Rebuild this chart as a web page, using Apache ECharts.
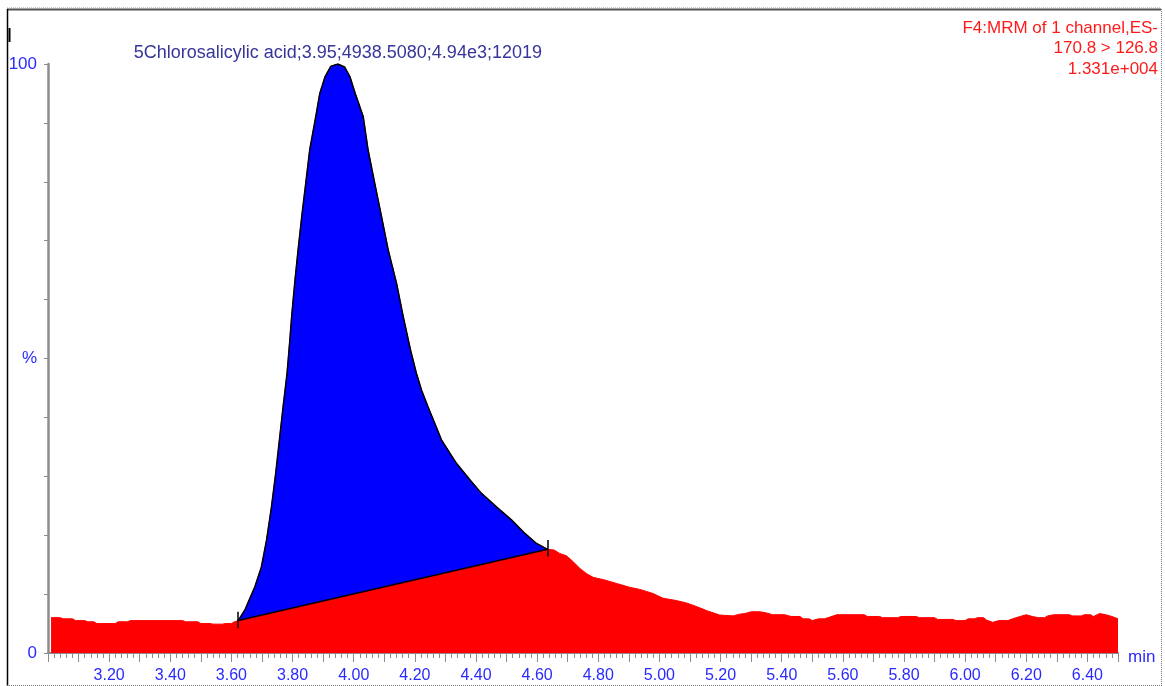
<!DOCTYPE html>
<html>
<head>
<meta charset="utf-8">
<title>5Chlorosalicylic acid</title>
<script src="https://cdn.jsdelivr.net/npm/echarts@6/dist/echarts.min.js"></script>
<style>
  html, body { margin: 0; padding: 0; background: #fff; }
  #chart { width: 1165px; height: 686px; }
</style>
</head>
<body>
<div id="chart"></div>
<script>
// retention time (min) and intensity (%)
var rt = [
  3.01, 3.04, 3.05, 3.08, 3.09, 3.12, 3.13, 3.15, 3.16, 3.22, 3.23, 3.26, 3.27, 3.35, 3.44,
  3.45, 3.49, 3.50, 3.53, 3.54, 3.57, 3.58, 3.60, 3.61,
  3.622, 3.644, 3.658, 3.677, 3.698, 3.715, 3.731, 3.745, 3.757, 3.769, 3.782, 3.791, 3.797,
  3.807, 3.818, 3.830, 3.843, 3.856, 3.876, 3.889, 3.906, 3.925, 3.948, 3.970, 3.988, 4.005,
  4.031, 4.047, 4.069, 4.091, 4.113, 4.140, 4.162, 4.186, 4.205, 4.222, 4.243, 4.265, 4.287,
  4.336, 4.380, 4.418, 4.467, 4.516, 4.560, 4.598, 4.634,
  4.655, 4.674, 4.696, 4.718, 4.739, 4.761, 4.783, 4.821, 4.860, 4.903, 4.936, 4.979, 5.012,
  5.056, 5.088, 5.121, 5.154, 5.197, 5.241, 5.262, 5.28, 5.30, 5.33, 5.35, 5.37, 5.41, 5.43,
  5.46, 5.47, 5.49, 5.50, 5.52, 5.54, 5.555, 5.58, 5.67, 5.68, 5.72, 5.73, 5.78, 5.79, 5.84,
  5.85, 5.90, 5.91, 5.96, 5.97, 6.00, 6.01, 6.03, 6.04, 6.06, 6.07, 6.09, 6.11, 6.14, 6.155,
  6.18, 6.20, 6.22, 6.24, 6.26, 6.27, 6.29, 6.34, 6.35, 6.38, 6.39, 6.41, 6.42, 6.44, 6.46,
  6.48, 6.50
];
var intensity = [
  6.0, 6.0, 5.8, 5.8, 5.5, 5.5, 5.3, 5.3, 5.0, 5.0, 5.3, 5.3, 5.5, 5.5, 5.5,
  5.3, 5.3, 5.0, 5.0, 4.9, 4.9, 5.0, 5.0, 5.3,
  5.5, 7.3, 9.0, 11.3, 14.6, 19.2, 24.8, 30.6, 36.2, 41.8, 47.5, 53.1, 57.1,
  62.8, 68.4, 74.1, 79.7, 85.4, 91.1, 95.0, 97.8, 99.6, 100, 99.5, 97.8, 95.0,
  91.1, 85.4, 79.7, 74.1, 68.4, 62.8, 57.1, 51.4, 47.5, 44.6, 41.8, 39.0, 36.2,
  32.2, 29.4, 27.1, 24.8, 22.6, 20.3, 18.6, 17.6,
  17.5, 16.9, 16.5, 15.5, 14.4, 13.5, 12.85, 12.4, 11.8, 11.15, 10.8, 10.1, 9.3,
  8.9, 8.5, 7.9, 7.2, 6.45, 6.3, 6.6, 6.7, 7.0, 7.0, 6.8, 6.5, 6.5, 6.2,
  6.2, 5.8, 5.8, 5.5, 5.8, 5.8, 6.05, 6.5, 6.5, 6.2, 6.2, 6.0, 6.0, 6.2, 6.2,
  6.0, 6.0, 5.7, 5.7, 5.5, 5.5, 5.8, 5.8, 6.0, 6.0, 5.6, 5.2, 5.5, 5.5, 5.8,
  6.2, 6.5, 6.2, 6.0, 6.0, 6.3, 6.5, 6.5, 6.3, 6.3, 6.5, 6.5, 6.2, 6.7, 6.5,
  6.2, 5.8
];

// integration: straight baseline from peak start to peak end
var baseTimes = [3.622, 4.634];
var baseValues = [5.5, 17.6];
// small vertical marks at both ends of the baseline [time, low, high]
var startMark = [3.622, 4.2, 7.0];
var endMark = [4.634, 16.4, 19.2];

var peakLabel = '5Chlorosalicylic acid;3.95;4938.5080;4.94e3;12019';
var apex = [3.948, 100];
var headerLines = ['F4:MRM of 1 channel,ES-', '170.8 > 126.8', '1.331e+004'];
// y axis only labels these positions
var yLabelAt = [0, 50, 100];
var yLabelText = ['0', '%', '100'];

var font = '"Liberation Sans", Arial, sans-serif';
var labelBlue = '#2a2aff';
var axisGray = '#8c8c8c';

var trace = [], peak = [], baseline = [];
for (var i = 0; i < rt.length; i++) {
  trace.push([rt[i], intensity[i]]);
  if (rt[i] >= baseTimes[0] && rt[i] <= baseTimes[1]) peak.push([rt[i], intensity[i]]);
}
for (var j = 0; j < baseTimes.length; j++) baseline.push([baseTimes[j], baseValues[j]]);

var myChart = echarts.init(document.getElementById('chart'), null, { renderer: 'canvas' });

myChart.setOption({
  animation: false,
  backgroundColor: '#fff',
  textStyle: { fontFamily: font },
  grid: { left: 48, right: 47, top: 64, bottom: 33, containLabel: false },
  xAxis: {
    type: 'value',
    min: 3.0,
    max: 6.5,
    interval: 0.1,
    name: 'min',
    nameLocation: 'end',
    nameGap: 10,
    nameTextStyle: { color: labelBlue, fontSize: 17, fontFamily: font, verticalAlign: 'top', padding: [-4, 0, 0, 0] },
    axisLine: { show: true, lineStyle: { color: axisGray, width: 2 } },
    axisTick: { show: true, length: 9, lineStyle: { color: axisGray, width: 1 } },
    minorTick: { show: true, splitNumber: 5, length: 5, lineStyle: { color: axisGray, width: 1 } },
    axisLabel: {
      color: labelBlue,
      fontSize: 16,
      fontFamily: font,
      margin: 15,
      showMaxLabel: false,
      formatter: function (v) {
        var k = Math.round(v * 10);
        if (k % 2 !== 0 || k <= 30) return '';
        return (k / 10).toFixed(2);
      }
    },
    splitLine: { show: false }
  },
  yAxis: {
    type: 'value',
    min: 0,
    max: 100,
    interval: 10,
    axisLine: { show: true, lineStyle: { color: axisGray, width: 2.5 } },
    axisTick: { show: true, length: 4, lineStyle: { color: axisGray, width: 1 } },
    axisLabel: {
      color: labelBlue,
      fontSize: 17,
      fontFamily: font,
      margin: 11,
      formatter: function (v) {
        var idx = yLabelAt.indexOf(Math.round(v));
        return idx >= 0 ? yLabelText[idx] : '';
      }
    },
    splitLine: { show: false }
  },
  series: [
    {
      name: 'trace',
      type: 'line',
      data: trace,
      symbol: 'none',
      lineStyle: { color: '#ff0000', width: 1 },
      areaStyle: { color: '#ff0000', opacity: 1 },
      z: 1,
      markPoint: {
        symbol: 'circle',
        symbolSize: 1,
        silent: true,
        itemStyle: { color: 'rgba(0,0,0,0)', borderWidth: 0 },
        label: {
          show: true,
          position: 'top',
          distance: 1,
          color: '#35359a',
          fontSize: 18,
          fontFamily: font,
          formatter: peakLabel
        },
        data: [{ coord: apex }]
      }
    },
    {
      // integrated area: trace between the marks, closed by the baseline
      name: 'peakArea',
      type: 'custom',
      data: [baseline[0]],
      z: 2,
      silent: true,
      renderItem: function (params, api) {
        var pts = peak.map(function (p) { return api.coord(p); });
        return { type: 'polygon', shape: { points: pts }, style: { fill: '#0000ff', stroke: null } };
      }
    },
    {
      name: 'peak',
      type: 'line',
      data: peak,
      symbol: 'none',
      lineStyle: { color: '#000', width: 1.5 },
      z: 3
    },
    {
      name: 'baseline',
      type: 'line',
      data: baseline,
      symbol: 'none',
      lineStyle: { color: '#000', width: 1.5 },
      z: 3,
      markLine: {
        silent: true,
        symbol: ['none', 'none'],
        label: { show: false },
        lineStyle: { color: '#000', width: 1.5, type: 'solid' },
        data: [
          [{ coord: [startMark[0], startMark[1]] }, { coord: [startMark[0], startMark[2]] }],
          [{ coord: [endMark[0], endMark[1]] }, { coord: [endMark[0], endMark[2]] }]
        ]
      }
    }
  ],
  graphic: [
    { type: 'line', shape: { x1: 7, y1: 9.5, x2: 1161, y2: 9.5 }, style: { stroke: '#555', lineWidth: 2 } },
    { type: 'line', shape: { x1: 7, y1: 8, x2: 1161, y2: 8 }, style: { stroke: '#999', lineWidth: 1, lineDash: [1, 1] } },
    { type: 'line', shape: { x1: 7.5, y1: 9, x2: 7.5, y2: 686 }, style: { stroke: '#000', lineWidth: 1.5 } },
    { type: 'line', shape: { x1: 1161.5, y1: 9, x2: 1161.5, y2: 686 }, style: { stroke: '#777', lineWidth: 1, lineDash: [1, 1] } },
    { type: 'line', shape: { x1: 7, y1: 685.5, x2: 1161, y2: 685.5 }, style: { stroke: '#777', lineWidth: 1, lineDash: [1, 1] } },
    { type: 'line', shape: { x1: 9.5, y1: 28, x2: 9.5, y2: 42 }, style: { stroke: '#000', lineWidth: 2 } },
    {
      type: 'text',
      style: {
        text: headerLines.join('\n'),
        x: 1158,
        y: 18,
        align: 'right',
        verticalAlign: 'top',
        fill: '#ff1a1a',
        font: '17px ' + font,
        lineHeight: 20.5
      }
    }
  ]
});
</script>
</body>
</html>
